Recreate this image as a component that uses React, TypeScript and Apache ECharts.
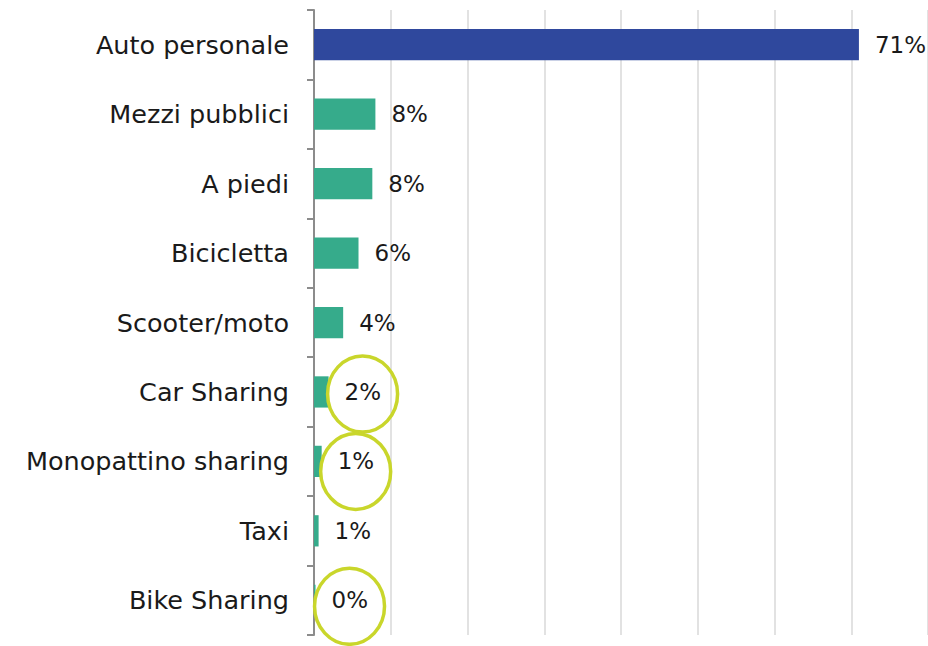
import React, { useEffect, useRef } from "react";
import * as echarts from "echarts";

const categories = [
  "Auto personale",
  "Mezzi pubblici",
  "A piedi",
  "Bicicletta",
  "Scooter/moto",
  "Car Sharing",
  "Monopattino sharing",
  "Taxi",
  "Bike Sharing",
];
const values = [71, 8.0, 7.6, 5.8, 3.8, 1.9, 1.0, 0.6, 0.2];
const highlighted = ["Car Sharing", "Monopattino sharing", "Bike Sharing"];
const ringOffsetsY = [2, 10, 6];
const xTicks = [0, 10, 20, 30, 40, 50, 60, 70, 80];

const BLUE = "#2f489d";
const GREEN = "#36ab8b";
const RING = "#c9d62b";
const FONT = "'DejaVu Sans', sans-serif";

export default function App() {
  const ref = useRef<HTMLDivElement>(null);
  useEffect(() => {
    if (!ref.current) return;
    const chart = echarts.init(ref.current, null, { renderer: "svg" });
    chart.setOption({
      animation: false,
      grid: { left: 314, right: 0, top: 10, bottom: 11, containLabel: false },
      xAxis: {
        type: "value",
        min: xTicks[0],
        max: xTicks[xTicks.length - 1],
        interval: xTicks[1] - xTicks[0],
        axisLabel: { show: false },
        axisLine: { show: false },
        axisTick: { show: false },
        splitLine: { show: true, lineStyle: { color: "#d9d9d9", width: 1.5 } },
      },
      yAxis: {
        type: "category",
        inverse: true,
        data: categories,
        axisLine: { show: true, lineStyle: { color: "#8c8c8c", width: 2 } },
        axisTick: { show: true, length: 7, lineStyle: { color: "#8c8c8c", width: 2 } },
        axisLabel: {
          margin: 25,
          color: "#1a1a1a",
          fontSize: 25.5,
          fontFamily: FONT,
        },
      },
      series: [
        {
          type: "bar",
          barWidth: "45%",
          data: values.map((v, i) => ({
            value: v,
            itemStyle: { color: i === 0 ? BLUE : GREEN },
          })),
          label: {
            show: true,
            position: "right",
            distance: 16,
            color: "#1a1a1a",
            fontSize: 23,
            fontFamily: FONT,
            formatter: (p: any) => Math.round(p.value) + "%",
          },
        },
      ],
    });
    const rings = highlighted.map((name, k) => {
      const idx = categories.indexOf(name);
      const pt = chart.convertToPixel({ gridIndex: 0 }, [values[idx], name]) as number[];
      return {
        type: "ellipse",
        shape: { cx: pt[0] + 34, cy: pt[1] + ringOffsetsY[k], rx: 35, ry: 38 },
        style: { fill: "none", stroke: RING, lineWidth: 3.5 },
        z: 100,
      };
    });
    chart.setOption({ graphic: rings });
    return () => chart.dispose();
  }, []);
  return <div ref={ref} style={{ width: 928, height: 646, position: "absolute", left: 0, top: 0 }} />;
}
